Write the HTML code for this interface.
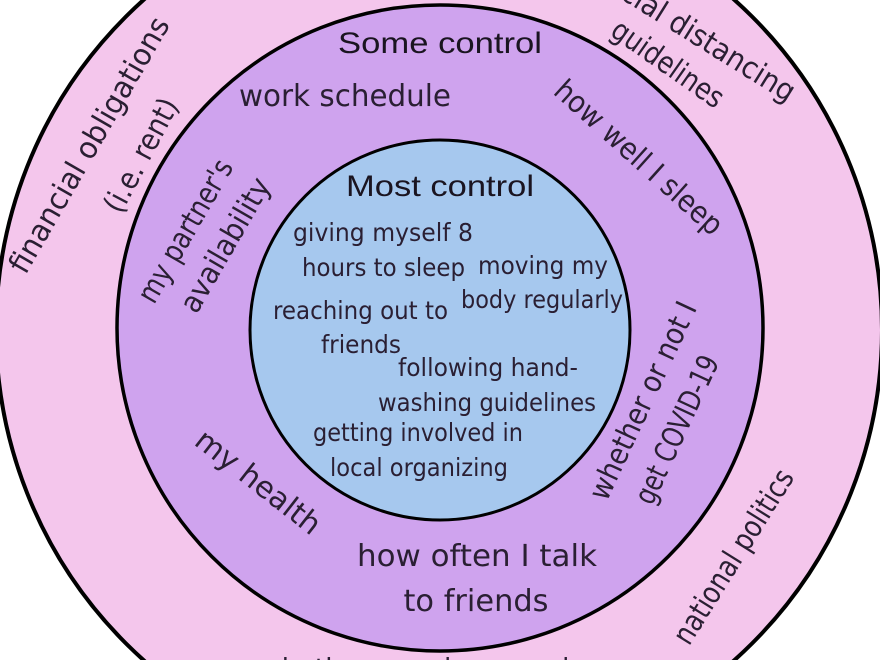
<!DOCTYPE html>
<html><head><meta charset="utf-8"><style>
html,body{margin:0;padding:0;background:#fff;width:880px;height:660px;overflow:hidden;}
svg{display:block;overflow:hidden}
text{font-family:"DejaVu Sans","Liberation Sans",sans-serif;fill:#2a1f33;}
.h{font-size:30px;}
.i{font-size:25px;}
.t{font-family:"Liberation Sans",sans-serif;font-size:30px;fill:#1a1420;}
</style></head><body>
<svg width="880" height="660" viewBox="0 0 880 660" xmlns="http://www.w3.org/2000/svg">
<rect width="880" height="660" fill="#fff"/>
<circle cx="439" cy="330" r="443" fill="#f4c6ec" stroke="#000" stroke-width="4"/>
<circle cx="440" cy="328" r="323" fill="#cfa3ee" stroke="#000" stroke-width="3.5"/>
<circle cx="440" cy="330" r="190" fill="#a6c8ee" stroke="#000" stroke-width="3"/>

<text class="t" x="440" y="53" text-anchor="middle" textLength="204" lengthAdjust="spacingAndGlyphs">Some control</text>
<text class="t" x="440" y="196" text-anchor="middle" textLength="188" lengthAdjust="spacingAndGlyphs">Most control</text>

<!-- outer -->
<text class="h" text-anchor="middle" transform="translate(98,150) rotate(-60)" textLength="290" lengthAdjust="spacingAndGlyphs">financial obligations</text>
<text class="h" text-anchor="middle" transform="translate(150,160) rotate(-62)" textLength="125" lengthAdjust="spacingAndGlyphs">(i.e. rent)</text>
<text class="h" text-anchor="middle" transform="translate(690,42) rotate(32)" textLength="230" lengthAdjust="spacingAndGlyphs">social distancing</text>
<text class="h" text-anchor="middle" transform="translate(662,72) rotate(35)" textLength="130" lengthAdjust="spacingAndGlyphs">guidelines</text>
<text class="h" text-anchor="middle" transform="translate(742,562) rotate(-58)" textLength="200" lengthAdjust="spacingAndGlyphs">national politics</text>
<text class="h" x="440" y="680" text-anchor="middle" textLength="360" lengthAdjust="spacingAndGlyphs">whether people around me</text>

<!-- middle -->
<text class="h" x="345" y="106" text-anchor="middle" textLength="212" lengthAdjust="spacingAndGlyphs">work schedule</text>
<text class="h" text-anchor="middle" transform="translate(632,165) rotate(42)" textLength="215" lengthAdjust="spacingAndGlyphs">how well I sleep</text>
<text class="h" text-anchor="middle" transform="translate(194,236) rotate(-60)" textLength="160" lengthAdjust="spacingAndGlyphs">my partner's</text>
<text class="h" text-anchor="middle" transform="translate(234,250) rotate(-60)" textLength="150" lengthAdjust="spacingAndGlyphs">availability</text>
<text class="h" text-anchor="middle" transform="translate(252,490) rotate(38)" textLength="150" lengthAdjust="spacingAndGlyphs">my health</text>
<text class="h" text-anchor="middle" transform="translate(652,405) rotate(-65)" textLength="215" lengthAdjust="spacingAndGlyphs">whether or not I</text>
<text class="h" text-anchor="middle" transform="translate(686,434) rotate(-65)" textLength="160" lengthAdjust="spacingAndGlyphs">get COVID-19</text>
<text class="h" x="477" y="566" text-anchor="middle" textLength="240" lengthAdjust="spacingAndGlyphs">how often I talk</text>
<text class="h" x="476" y="611" text-anchor="middle" textLength="145" lengthAdjust="spacingAndGlyphs">to friends</text>

<!-- inner -->
<text class="i" x="293" y="241" textLength="180" lengthAdjust="spacingAndGlyphs">giving myself 8</text>
<text class="i" x="302" y="276" textLength="163" lengthAdjust="spacingAndGlyphs">hours to sleep</text>
<text class="i" x="478" y="274" textLength="130" lengthAdjust="spacingAndGlyphs">moving my</text>
<text class="i" x="461" y="308" textLength="162" lengthAdjust="spacingAndGlyphs">body regularly</text>
<text class="i" x="273" y="319" textLength="175" lengthAdjust="spacingAndGlyphs">reaching out to</text>
<text class="i" x="321" y="353" textLength="80" lengthAdjust="spacingAndGlyphs">friends</text>
<text class="i" x="398" y="376" textLength="180" lengthAdjust="spacingAndGlyphs">following hand-</text>
<text class="i" x="378" y="411" textLength="218" lengthAdjust="spacingAndGlyphs">washing guidelines</text>
<text class="i" x="313" y="441" textLength="210" lengthAdjust="spacingAndGlyphs">getting involved in</text>
<text class="i" x="330" y="476" textLength="178" lengthAdjust="spacingAndGlyphs">local organizing</text>
</svg>
</body></html>
